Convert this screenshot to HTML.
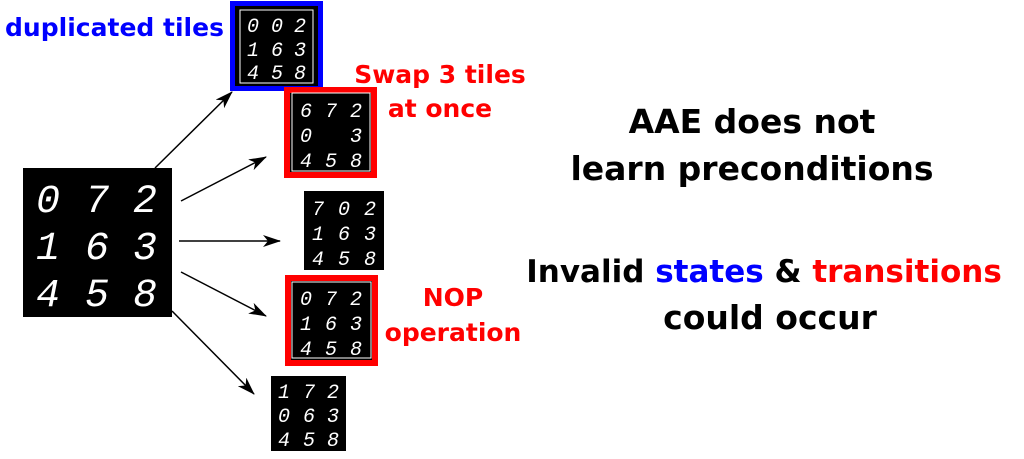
<!DOCTYPE html>
<html><head><style>
html,body{margin:0;padding:0;background:#fff;width:1024px;height:459px;overflow:hidden}
</style></head><body>
<svg width="1024" height="459" xmlns="http://www.w3.org/2000/svg" font-family="'DejaVu Sans','Liberation Sans',sans-serif">
<defs>
<marker id="a" markerWidth="18" markerHeight="12" refX="17" refY="6" orient="auto" markerUnits="userSpaceOnUse" viewBox="0 0 18 12">
<path d="M0,0 L18,6 L0,12 L5,6 z" fill="#000"/></marker>
</defs>
<g stroke="#000" stroke-width="1.5" marker-end="url(#a)" fill="none">
<line x1="155" y1="168" x2="232" y2="92"/>
<line x1="181" y1="201" x2="266" y2="157"/>
<line x1="179" y1="241" x2="280" y2="241"/>
<line x1="181" y1="272" x2="266" y2="316"/>
<line x1="172" y1="311" x2="254" y2="394"/>
</g>
<rect x="23" y="168" width="149" height="149" fill="#000"/>
<g fill="#fff" font-family="'Liberation Mono',monospace" font-size="40" font-style="italic" text-anchor="middle">
<text x="48" y="212">0</text><text x="97" y="212">7</text><text x="145" y="212">2</text>
<text x="48" y="259">1</text><text x="97" y="259">6</text><text x="145" y="259">3</text>
<text x="48" y="306">4</text><text x="97" y="306">5</text><text x="145" y="306">8</text>
</g>
<rect x="232.5" y="3.5" width="88" height="85" fill="#000" stroke="#00f" stroke-width="5"/>
<rect x="240" y="10" width="73" height="73" fill="none" stroke="#fff" stroke-width="1"/>
<rect x="287" y="90" width="87" height="85" fill="#000" stroke="#f00" stroke-width="6"/>
<rect x="292" y="93" width="78" height="78" fill="none" stroke="#fff" stroke-width="1"/>
<rect x="304" y="191" width="80" height="79" fill="#000"/>
<rect x="288" y="278" width="87" height="85" fill="#000" stroke="#f00" stroke-width="6"/>
<rect x="292" y="282" width="79" height="76" fill="none" stroke="#fff" stroke-width="1"/>
<rect x="271" y="376" width="75" height="75" fill="#000"/>
<g fill="#fff" font-family="'Liberation Mono',monospace" font-size="20" font-style="italic" text-anchor="middle">
<text x="253" y="32">0</text><text x="277" y="32">0</text><text x="300" y="32">2</text>
<text x="253" y="56">1</text><text x="277" y="56">6</text><text x="300" y="56">3</text>
<text x="253" y="79">4</text><text x="277" y="79">5</text><text x="300" y="79">8</text>
<text x="306" y="117">6</text><text x="331" y="117">7</text><text x="356" y="117">2</text>
<text x="306" y="142">0</text><text x="356" y="142">3</text>
<text x="306" y="167">4</text><text x="331" y="167">5</text><text x="356" y="167">8</text>
<text x="318" y="215">7</text><text x="344" y="215">0</text><text x="370" y="215">2</text>
<text x="318" y="240">1</text><text x="344" y="240">6</text><text x="370" y="240">3</text>
<text x="318" y="265">4</text><text x="344" y="265">5</text><text x="370" y="265">8</text>
<text x="306" y="305">0</text><text x="331" y="305">7</text><text x="356" y="305">2</text>
<text x="306" y="330">1</text><text x="331" y="330">6</text><text x="356" y="330">3</text>
<text x="306" y="355">4</text><text x="331" y="355">5</text><text x="356" y="355">8</text>
<text x="284" y="398">1</text><text x="309" y="398">7</text><text x="333" y="398">2</text>
<text x="284" y="422">0</text><text x="309" y="422">6</text><text x="333" y="422">3</text>
<text x="284" y="446">4</text><text x="309" y="446">5</text><text x="333" y="446">8</text>
</g>
<g font-weight="bold">
<text x="5" y="36" font-size="25" fill="#00f" textLength="219" lengthAdjust="spacingAndGlyphs">duplicated tiles</text>
<text x="440" y="83" font-size="25" fill="#f00" text-anchor="middle">Swap 3 tiles</text>
<text x="440" y="117" font-size="25" fill="#f00" text-anchor="middle">at once</text>
<text x="453" y="306" font-size="25" fill="#f00" text-anchor="middle">NOP</text>
<text x="453" y="341" font-size="25" fill="#f00" text-anchor="middle">operation</text>
<text x="752" y="133" font-size="33" text-anchor="middle">AAE does not</text>
<text x="752" y="180" font-size="33" text-anchor="middle">learn preconditions</text>
<text x="764" y="282" font-size="31" text-anchor="middle">Invalid <tspan fill="#00f">states</tspan> &amp; <tspan fill="#f00">transitions</tspan></text>
<text x="770" y="329" font-size="33" text-anchor="middle">could occur</text>
</g>
</svg>
</body></html>
